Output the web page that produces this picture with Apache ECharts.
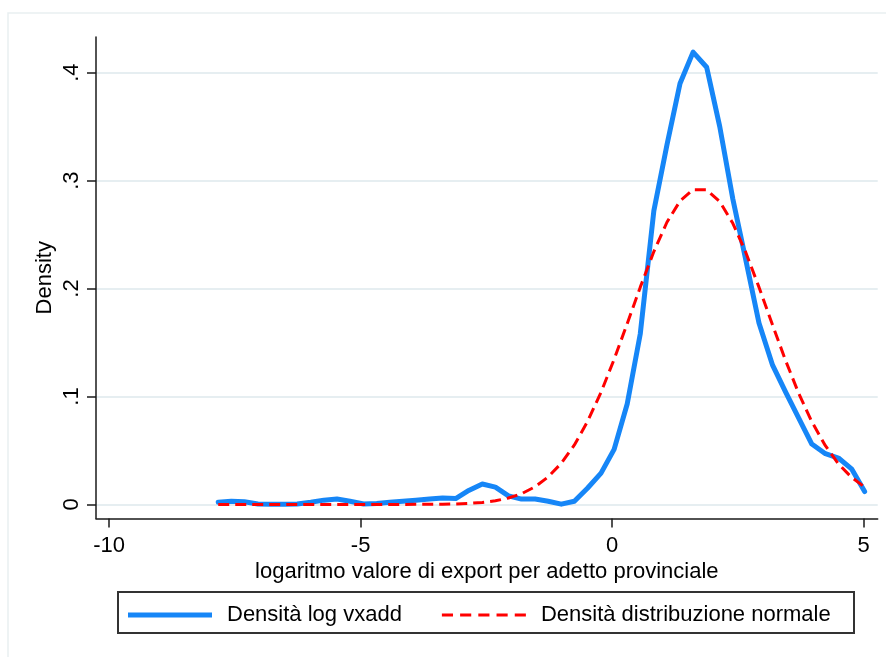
<!DOCTYPE html>
<html>
<head>
<meta charset="utf-8">
<title>Densità log vxadd</title>
<script src="https://cdn.jsdelivr.net/npm/echarts@6/dist/echarts.min.js"></script>
<style>
  html, body { margin: 0; padding: 0; background: #fff; }
  #chart { width: 886px; height: 657px; }
</style>
</head>
<body>
<div id="chart"></div>
<script>
// Evaluation grid (log export value per employee)
const gridX = [
  -7.83, -7.57, -7.31, -7.04, -6.78, -6.52, -6.26, -5.99, -5.73, -5.47,
  -5.21, -4.94, -4.68, -4.42, -4.16, -3.90, -3.63, -3.37, -3.11, -2.85,
  -2.58, -2.32, -2.06, -1.80, -1.53, -1.27, -1.01, -0.75, -0.49, -0.22,
   0.04,  0.30,  0.56,  0.83,  1.09,  1.35,  1.61,  1.88,  2.14,  2.40,
   2.66,  2.92,  3.19,  3.45,  3.71,  3.97,  4.24,  4.50,  4.76,  5.02
];

// Kernel density estimate
const kdensity = [
  0.0020, 0.0030, 0.0025, 0.0005, 0.0003, 0.0003, 0.0005, 0.0020, 0.0040, 0.0050,
  0.0030, 0.0005, 0.0010, 0.0020, 0.0030, 0.0040, 0.0050, 0.0060, 0.0055, 0.0130,
  0.0190, 0.0160, 0.0080, 0.0050, 0.0050, 0.0030, 0.0003, 0.0030, 0.0150, 0.0290,
  0.0510, 0.0930, 0.1580, 0.2720, 0.3330, 0.3900, 0.4190, 0.4050, 0.3500, 0.2830,
  0.2260, 0.1680, 0.1290, 0.1040, 0.0800, 0.0560, 0.0470, 0.0430, 0.0330, 0.0120
];

// Normal density
const normalDensity = [
  0.0000, 0.0000, 0.0000, 0.0000, 0.0000, 0.0000, 0.0000, 0.0000, 0.0000, 0.0000,
  0.0000, 0.0000, 0.0000, 0.0000, 0.0000, 0.0001, 0.0001, 0.0002, 0.0005, 0.0010,
  0.0019, 0.0034, 0.0060, 0.0100, 0.0164, 0.0255, 0.0382, 0.0551, 0.0767, 0.1040,
  0.1344, 0.1675, 0.2013, 0.2343, 0.2614, 0.2811, 0.2916, 0.2914, 0.2805, 0.2604,
  0.2332, 0.2013, 0.1662, 0.1332, 0.1029, 0.0767, 0.0544, 0.0376, 0.0251, 0.0161
];

const xTicks = [-10, -5, 0, 5];
const yTicks = [0, 0.1, 0.2, 0.3, 0.4];

const seriesNames = ['Densità log vxadd', 'Densità distribuzione normale'];
const xTitle = 'logaritmo valore di export per adetto provinciale';
const yTitle = 'Density';

const FONT = '"Liberation Sans", Arial, Helvetica, sans-serif';
const AXIS_COLOR = '#1a1a1a';
const GRID_COLOR = '#e6eef1';
const BLUE = '#1686f7';
const RED = '#ff0000';

// legend keys: a solid bar and a row of dashes
const solidKey = 'path://M0,0H84V5H0Z';
const dashKey = 'path://M0,0H11V3H0Z M18,0H29V3H18Z M36,0H47V3H36Z M54,0H65V3H54Z M72,0H83V3H72Z';

const chart = echarts.init(document.getElementById('chart'), null, { renderer: 'canvas' });

const pairs = (xs, ys) => xs.map((x, i) => [x, ys[i]]);

chart.setOption({
  animation: false,
  backgroundColor: '#ffffff',
  textStyle: { fontFamily: FONT },
  grid: { left: 96, right: 8.3, top: 37, bottom: 138.5, containLabel: false },
  xAxis: {
    type: 'value',
    min: -10.26,
    max: 5.28,
    name: xTitle,
    nameLocation: 'middle',
    nameGap: 39,
    nameTextStyle: { fontSize: 22, color: '#000', fontFamily: FONT },
    axisLine: { show: true, onZero: false, lineStyle: { color: AXIS_COLOR, width: 1.5 } },
    axisTick: { show: true, length: 9, lineStyle: { color: AXIS_COLOR, width: 1.5 }, customValues: xTicks },
    axisLabel: { show: true, fontSize: 22, color: '#000', margin: 16, fontFamily: FONT, customValues: xTicks },
    splitLine: { show: false }
  },
  yAxis: {
    type: 'value',
    min: -0.013,
    max: 0.433,
    name: yTitle,
    nameLocation: 'middle',
    nameGap: 40,
    nameMoveOverlap: false,
    nameTextStyle: { fontSize: 22, color: '#000', fontFamily: FONT },
    axisLine: { show: true, onZero: false, lineStyle: { color: AXIS_COLOR, width: 1.5 } },
    axisTick: { show: true, length: 9, lineStyle: { color: AXIS_COLOR, width: 1.5 }, customValues: yTicks },
    axisLabel: {
      show: true, fontSize: 22, color: '#000', margin: 13, rotate: 90, fontFamily: FONT,
      customValues: yTicks,
      formatter: v => (v === 0 ? '0' : String(+v.toFixed(1)).replace(/^0/, ''))
    },
    splitLine: { show: true, lineStyle: { color: GRID_COLOR, width: 2 } }
  },
  legend: {
    show: true,
    left: 128,
    top: 604,
    padding: 0,
    orient: 'horizontal',
    itemWidth: 84,
    itemHeight: 14,
    itemGap: 40,
    textStyle: { fontSize: 22, color: '#000', fontFamily: FONT, padding: [0, 0, 0, 10] },
    data: [
      { name: seriesNames[0], icon: solidKey },
      { name: seriesNames[1], icon: dashKey }
    ],
    selectedMode: false
  },
  graphic: [
    // outer graph-region outline
    { type: 'polyline', silent: true, z: 0,
      shape: { points: [[8, 657], [8, 13], [886, 13]] },
      style: { stroke: '#e9eff1', lineWidth: 1.5, fill: null } },
    // legend frame
    { type: 'rect', silent: true, z: 0,
      shape: { x: 118, y: 592, width: 736, height: 41 },
      style: { stroke: '#333333', lineWidth: 2, fill: null } }
  ],
  series: [
    {
      name: seriesNames[0],
      type: 'line',
      data: pairs(gridX, kdensity),
      showSymbol: false,
      symbol: 'none',
      smooth: false,
      z: 3,
      lineStyle: { color: BLUE, width: 5, join: 'round', cap: 'round' },
      itemStyle: { color: BLUE }
    },
    {
      name: seriesNames[1],
      type: 'line',
      data: pairs(gridX, normalDensity),
      showSymbol: false,
      symbol: 'none',
      smooth: false,
      z: 4,
      lineStyle: { color: RED, width: 3, type: [11, 6] },
      itemStyle: { color: RED }
    }
  ]
});
</script>
</body>
</html>
